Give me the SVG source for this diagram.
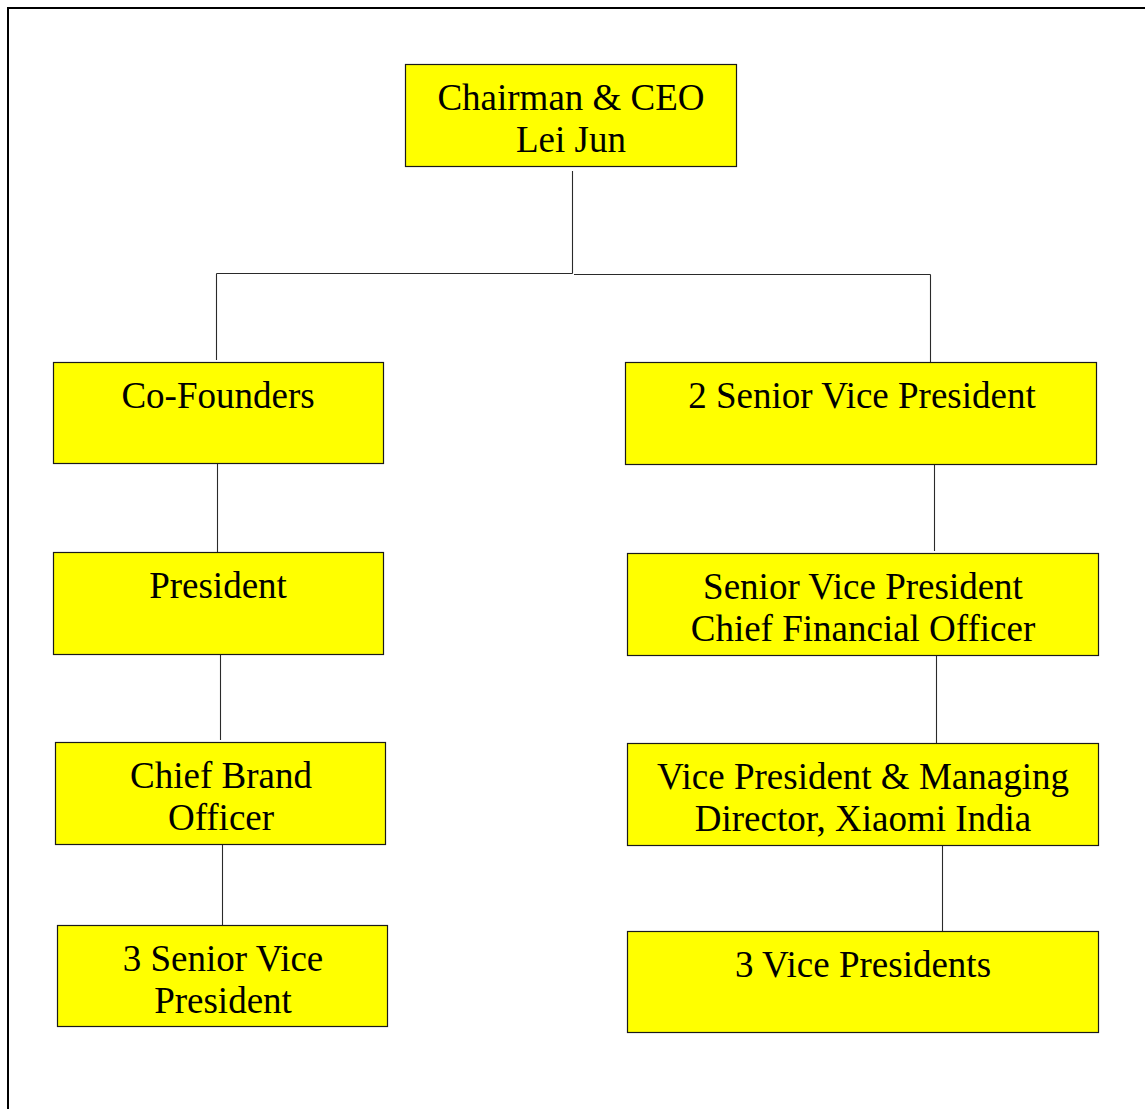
<svg xmlns="http://www.w3.org/2000/svg" width="1145" height="1109" viewBox="0 0 1145 1109">
<style>
.box{fill:#ffff00;stroke:#1a1a1a;stroke-width:1.2}
.lbl{font-family:'Liberation Serif','Times New Roman',Times,serif;font-size:37px;fill:#000;text-anchor:middle}
.con{stroke:#2a2a2a;stroke-width:1.1;fill:none}
</style>
<rect width="1145" height="1109" fill="#fff"/>
<path d="M8 1109 V8 H1145" fill="none" stroke="#000" stroke-width="2"/>
<g id="connectors">
<path class="con" d="M572.5 171 V273.5 M216.5 273.5 H572.5 M574 274.5 H930.5 M216.5 273.5 V360 M930.5 274.5 V362"/>
<path class="con" d="M217.5 463 V552"/>
<path class="con" d="M220.5 655 V740"/>
<path class="con" d="M222.5 845 V925"/>
<path class="con" d="M934.5 464 V551"/>
<path class="con" d="M936.5 655 V743"/>
<path class="con" d="M942.5 845 V931"/>
</g>
<g id="ceo"><rect class="box" x="405.5" y="64.5" width="331" height="102"/><text class="lbl" x="571" y="110">Chairman &amp; CEO</text><text class="lbl" x="571" y="152">Lei Jun</text></g>
<g id="cofounders"><rect class="box" x="53.5" y="362.5" width="330" height="101"/><text class="lbl" x="218" y="408">Co-Founders</text></g>
<g id="svp2"><rect class="box" x="625.5" y="362.5" width="471" height="102"/><text class="lbl" x="862" y="408">2 Senior Vice President</text></g>
<g id="president"><rect class="box" x="53.5" y="552.5" width="330" height="102"/><text class="lbl" x="218" y="598">President</text></g>
<g id="cfo"><rect class="box" x="627.5" y="553.5" width="471" height="102"/><text class="lbl" x="863" y="599">Senior Vice President</text><text class="lbl" x="863" y="641">Chief Financial Officer</text></g>
<g id="cbo"><rect class="box" x="55.5" y="742.5" width="330" height="102"/><text class="lbl" x="221" y="788">Chief Brand</text><text class="lbl" x="221" y="830">Officer</text></g>
<g id="vpmd"><rect class="box" x="627.5" y="743.5" width="471" height="102"/><text class="lbl" x="863" y="789">Vice President &amp; Managing</text><text class="lbl" x="863" y="831">Director, Xiaomi India</text></g>
<g id="svp3"><rect class="box" x="57.5" y="925.5" width="330" height="101"/><text class="lbl" x="223" y="971">3 Senior Vice</text><text class="lbl" x="223" y="1013">President</text></g>
<g id="vp3"><rect class="box" x="627.5" y="931.5" width="471" height="101"/><text class="lbl" x="863" y="977">3 Vice Presidents</text></g>
</svg>
